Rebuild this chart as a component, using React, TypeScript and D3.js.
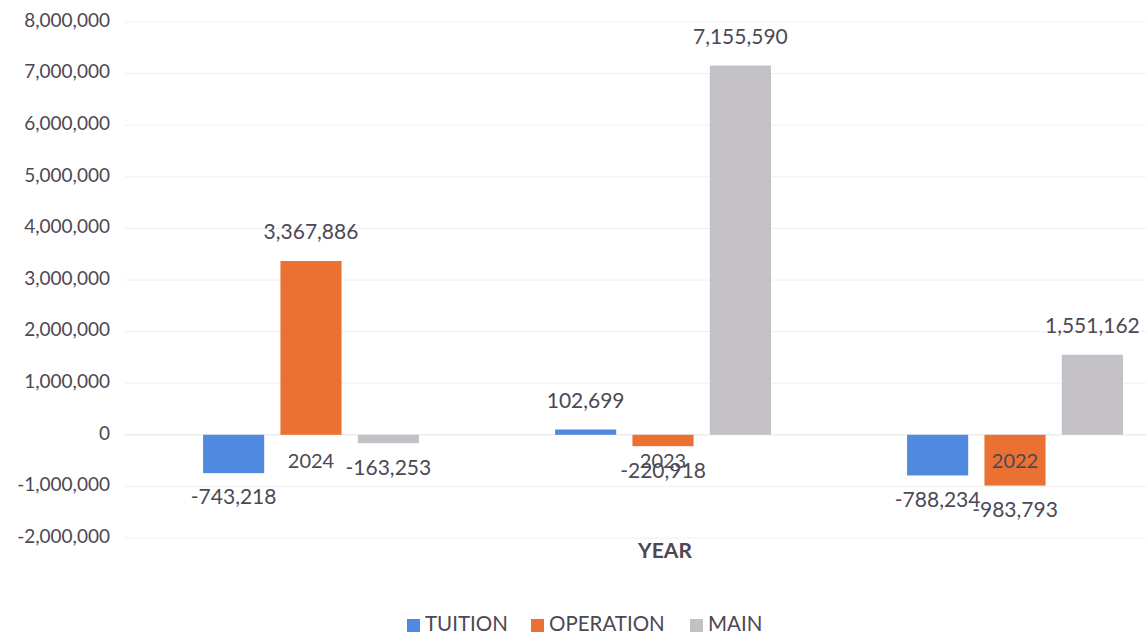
import React from "react";
import * as d3 from "d3";

const years = ["2024", "2023", "2022"];
const seriesNames = ["TUITION", "OPERATION", "MAIN"];
const tuition = [-743218, 102699, -788234];
const operation = [3367886, -220918, -983793];
const main = [-163253, 7155590, 1551162];
const yTicks = [8000000, 7000000, 6000000, 5000000, 4000000, 3000000, 2000000, 1000000, 0, -1000000, -2000000];
const colors = ["#4F89E0", "#EA7132", "#C3C1C6"];

const W = 1146;
const H = 636;
const FONT = "Lato, 'Open Sans', sans-serif";
const TXT = "#4D4853";

const locale = d3.formatLocale({ decimal: ".", thousands: ",", grouping: [3], currency: ["$", ""], minus: "-" });
const fmt = locale.format(",");

export default function App() {
  const values = [tuition, operation, main];
  const x0 = d3.scaleBand<string>().domain(years).range([135, 1191]).paddingInner(0).paddingOuter(0);
  const x1 = d3.scaleBand<string>().domain(seriesNames).range([0, x0.bandwidth()]).paddingInner(0.21).paddingOuter(0.88);
  const y = d3.scaleLinear().domain([-2000000, 8000000]).range([538, 22]);

  return (
    <svg width={W} height={H} style={{ display: "block", position: "absolute", left: 0, top: 0 }} fontFamily={FONT}>
      <rect width={W} height={H} fill="#ffffff" />
      {yTicks.map((t) => (
        <g key={t}>
          <line x1={125} x2={W} y1={y(t)} y2={y(t)} stroke={t === 0 ? "#e4e4e4" : "#f0f0f0"} strokeWidth={1} />
          <text x={110} y={y(t)} textAnchor="end" dominantBaseline="middle" fontSize={19} fill={TXT}>
            {fmt(t)}
          </text>
        </g>
      ))}
      {years.map((yr, i) => (
        <g key={yr} transform={`translate(${x0(yr)},0)`}>
          {seriesNames.map((s, j) => {
            const v = values[j][i];
            const top = Math.min(y(v), y(0));
            const h = Math.abs(y(v) - y(0));
            return (
              <rect key={s} x={x1(s)} y={top} width={x1.bandwidth()} height={Math.max(h, 4)} fill={colors[j]} />
            );
          })}
        </g>
      ))}
      {years.map((yr) => (
        <text key={yr} x={(x0(yr) as number) + x0.bandwidth() / 2} y={y(0) + 28} textAnchor="middle" dominantBaseline="middle" fontSize={20} fill={TXT}>
          {yr}
        </text>
      ))}
      {years.map((yr, i) => (
        <g key={yr + "l"} transform={`translate(${x0(yr)},0)`}>
          {seriesNames.map((s, j) => {
            const v = values[j][i];
            const cx = (x1(s) as number) + x1.bandwidth() / 2;
            const ly = v >= 0 ? y(v) - 27 : y(v) + 26;
            return (
              <text key={s} x={cx} y={ly} textAnchor="middle" dominantBaseline="middle" fontSize={21} fill={TXT}>
                {fmt(v)}
              </text>
            );
          })}
        </g>
      ))}
      <text x={665} y={553} textAnchor="middle" dominantBaseline="middle" fontSize={21} fontWeight="bold" fill={TXT}>
        YEAR
      </text>
      {(() => {
        const items = [
          { x: 407, label: seriesNames[0] },
          { x: 531, label: seriesNames[1] },
          { x: 690, label: seriesNames[2] },
        ];
        return items.map((it, j) => (
          <g key={it.label}>
            <rect x={it.x} y={619} width={13} height={13} fill={colors[j]} />
            <text x={it.x + 18} y={626} dominantBaseline="middle" fontSize={20.5} fill={TXT}>
              {it.label}
            </text>
          </g>
        ));
      })()}
    </svg>
  );
}
